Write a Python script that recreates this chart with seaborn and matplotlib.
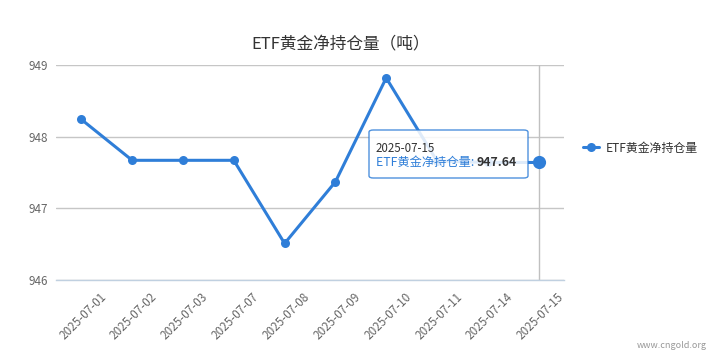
import matplotlib
matplotlib.use("Agg")
import matplotlib.pyplot as plt
import matplotlib.transforms as mtransforms
from matplotlib.patches import FancyBboxPatch
from matplotlib.lines import Line2D
import seaborn as sns
import pandas as pd

dates = ["2025-07-01", "2025-07-02", "2025-07-03", "2025-07-07", "2025-07-08",
         "2025-07-09", "2025-07-10", "2025-07-11", "2025-07-14", "2025-07-15"]
holdings = [948.24, 947.67, 947.67, 947.67, 946.51, 947.37, 948.82, 947.66, 947.64, 947.64]
series_name = "ETF黄金净持仓量"
title_text = "ETF黄金净持仓量（吨）"
y_ticks = [946, 947, 948, 949]

LINE = "#2f7ed8"
sns.set_theme(style="white")
plt.rcParams["font.family"] = ["Noto Sans CJK SC", "DejaVu Sans"]

df = pd.DataFrame({"date": dates, "value": holdings})

W, H = 724, 362
fig = plt.figure(figsize=(W / 100, H / 100), dpi=100)
ax = fig.add_axes([56 / W, 1 - 280 / H, (564 - 56) / W, (280 - 65) / H])

sns.lineplot(data=df, x="date", y="value", ax=ax, color=LINE, linewidth=2.2,
             marker="o", markersize=6.5, markeredgewidth=0, sort=False)

# hover marker on last point
ax.plot([len(dates) - 1], [holdings[-1]], marker="o", markersize=9.5,
        color=LINE, markeredgewidth=0, zorder=5)

ax.set_xlim(-0.5, len(dates) - 0.5)
ax.set_ylim(y_ticks[0], y_ticks[-1])
ax.set_yticks(y_ticks)
ax.set_yticklabels([str(t) for t in y_ticks])
ax.set_xlabel("")
ax.set_ylabel("")

ax.grid(axis="y", color="#c6c6c6", linewidth=1)
ax.set_axisbelow(True)
for s in ["top", "right", "left"]:
    ax.spines[s].set_visible(False)
ax.spines["bottom"].set_color("#c0d0e0")
ax.spines["bottom"].set_linewidth(1)

ax.tick_params(axis="y", length=0, pad=6, labelsize=8.4, labelcolor="#666666")
ax.tick_params(axis="x", which="major", length=0, labelsize=8.4, labelcolor="#666666")
ax.set_xticks([i - 0.5 for i in range(len(dates) + 1)], minor=True)
ax.tick_params(axis="x", which="minor", length=5, color="#c0d0e0", width=1, direction="out")

offset = mtransforms.ScaledTranslation(0.23, -0.1, fig.dpi_scale_trans)
for lbl in ax.get_xticklabels():
    lbl.set_rotation(45)
    lbl.set_ha("right")
    lbl.set_va("center")
    lbl.set_rotation_mode("anchor")
    lbl.set_transform(lbl.get_transform() + offset)

# crosshair
ax.axvline(len(dates) - 1, color="#c0c0c0", linewidth=1, zorder=1)

# title
fig.text(341 / W, 1 - 45 / H, title_text, ha="center", va="center",
         fontsize=12, color="#333333")

# legend
handle = Line2D([0], [0], color=LINE, linewidth=2.2, marker="o", markersize=6.5,
                markeredgewidth=0)
fig.legend([handle], [series_name], loc="center left",
           bbox_to_anchor=(572 / W, 1 - 148 / H), frameon=False,
           fontsize=8.6, labelcolor="#333333", handlelength=1.4, handletextpad=0.5)

# tooltip
bx0, by0, bx1, by1 = 369, 130, 528, 178
box = FancyBboxPatch((bx0 / W, 1 - by1 / H), (bx1 - bx0) / W, (by1 - by0) / H,
                     boxstyle="round,pad=0,rounding_size=0.006",
                     transform=fig.transFigure, facecolor="white", alpha=0.85,
                     edgecolor=LINE, linewidth=1, zorder=10)
fig.patches.append(box)
fig.text(376 / W, 1 - 148 / H, dates[-1], ha="left", va="center",
         fontsize=8.3, color="#333333", zorder=11)
t1 = fig.text(376 / W, 1 - 162 / H, series_name + ": ", ha="left", va="center",
              fontsize=8.8, color=LINE, zorder=11)
fig.canvas.draw()
bb = t1.get_window_extent()
fig.text(bb.x1 / W, 1 - 162 / H, f"{holdings[-1]:.2f}", ha="left", va="center",
         fontsize=8.8, color="#333333", fontweight="bold", zorder=11)

# watermark
fig.text(672 / W, 1 - 345 / H, "www.cngold.org", ha="center", va="center",
         fontsize=6.5, color="#999999")

fig.savefig("out.png", dpi=100)
